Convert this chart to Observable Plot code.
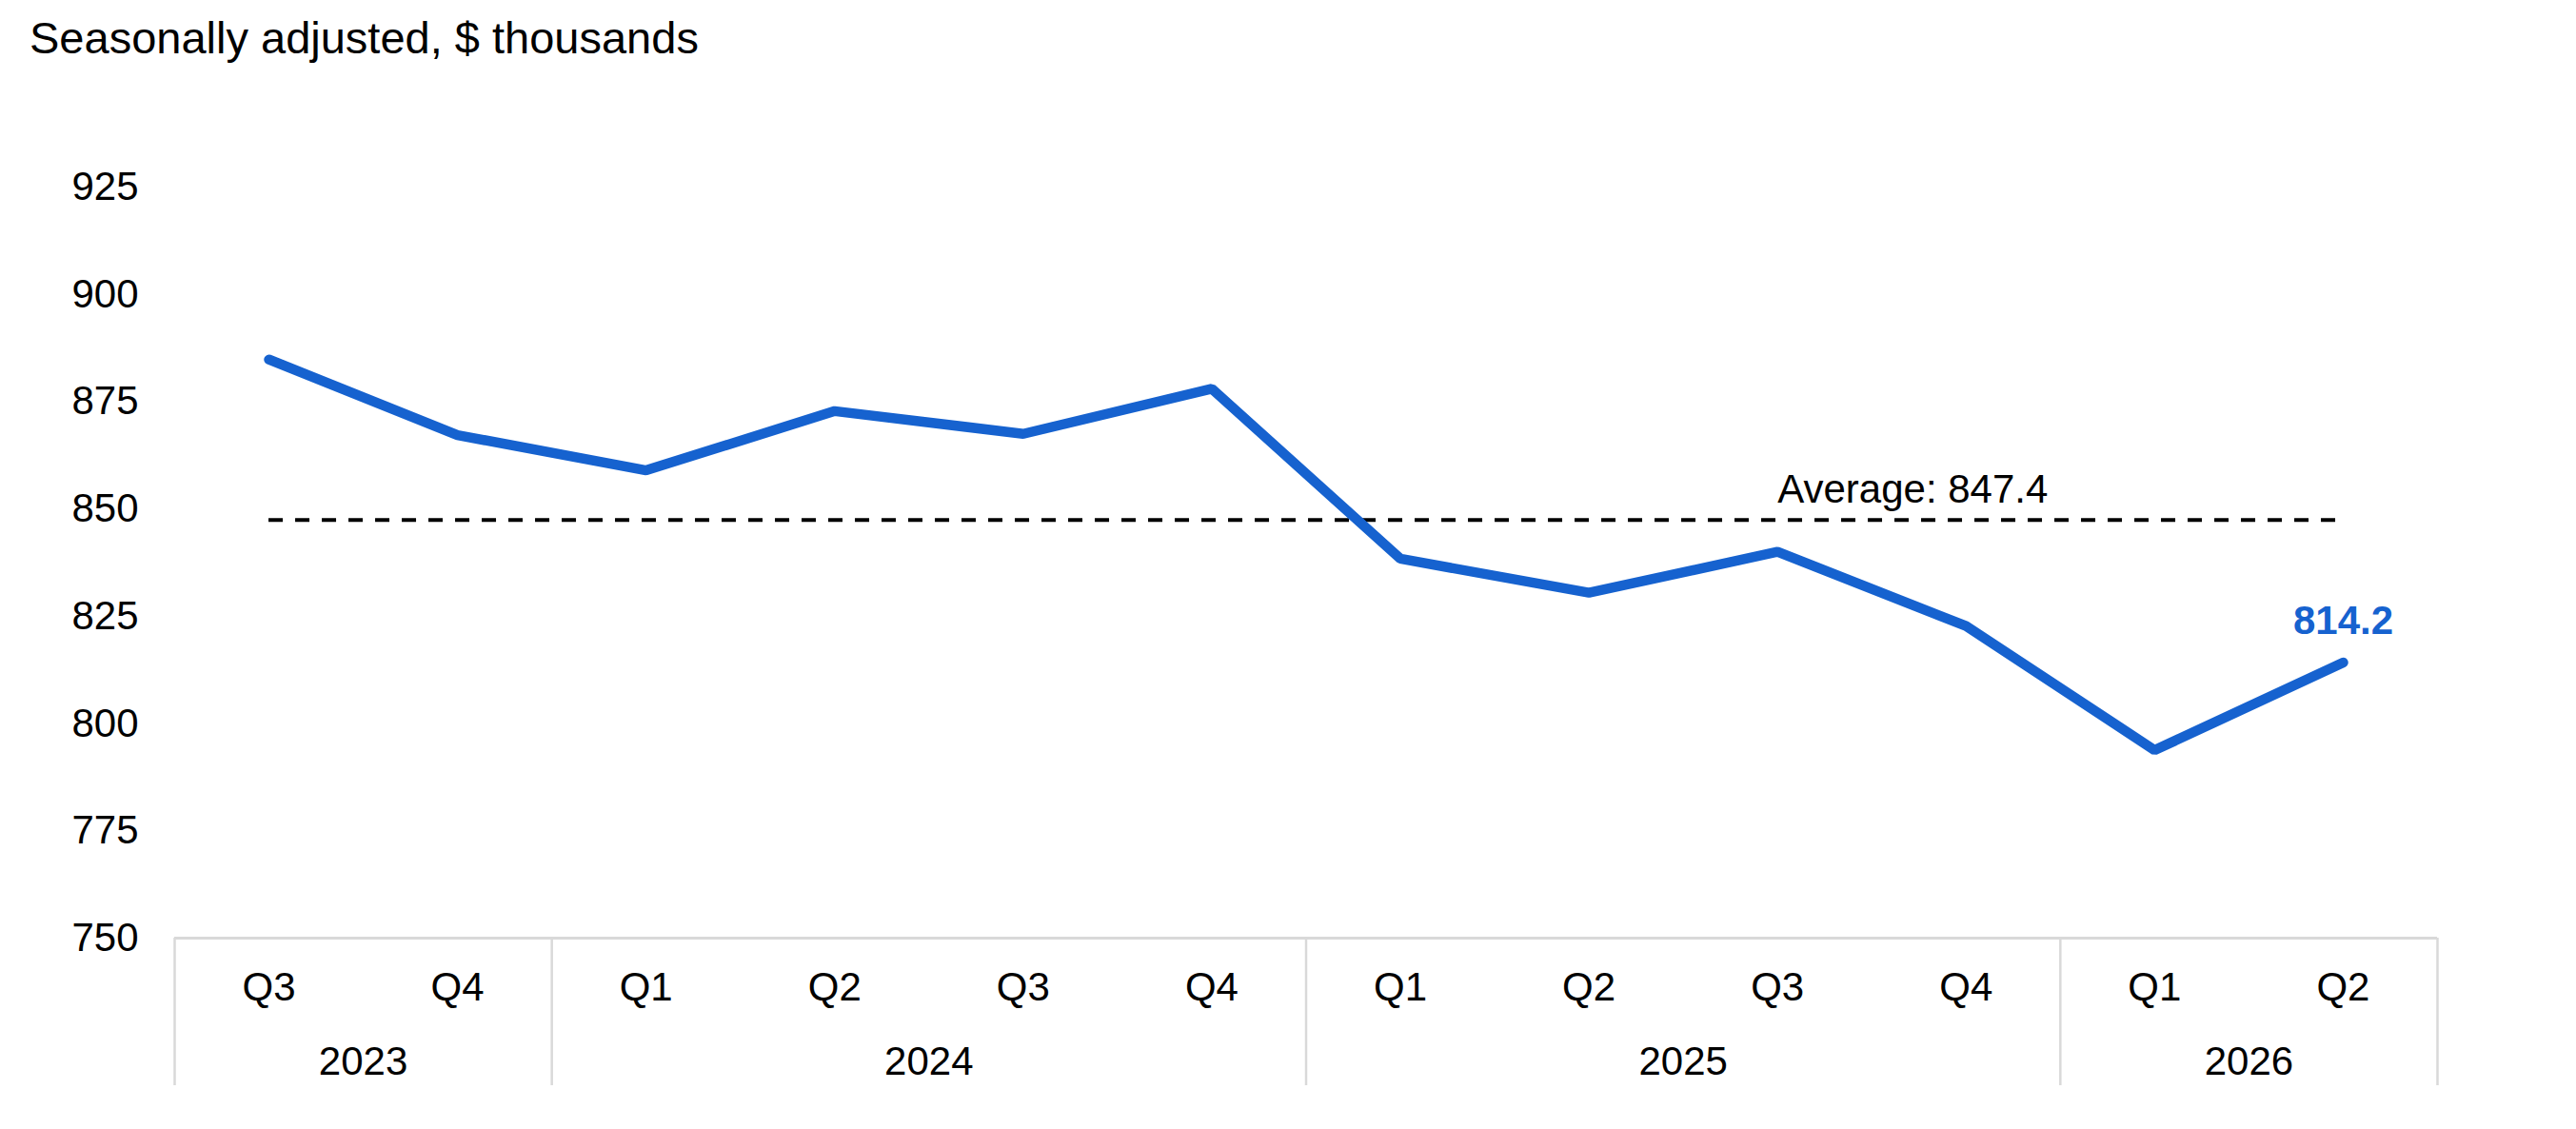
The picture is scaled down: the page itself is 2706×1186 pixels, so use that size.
<!DOCTYPE html>
<html>
<head>
<meta charset="utf-8">
<script src="https://cdn.jsdelivr.net/npm/d3@7"></script>
<script src="https://cdn.jsdelivr.net/npm/@observablehq/plot@0.6"></script>
<style>
  html, body { margin: 0; padding: 0; background: #fff; }
  body { font-family: "Liberation Sans", Arial, sans-serif; color: #000; }
  #title { font-size: 47px; line-height: 47px; padding: 16px 0 0 31px; height: 54px; box-sizing: content-box; }
  #chart svg { display: block; }
</style>
</head>
<body>
<div id="title">Seasonally adjusted, $ thousands</div>
<div id="chart"></div>
<script>
// ---- data ----
const quarters = ["Q3", "Q4", "Q1", "Q2", "Q3", "Q4", "Q1", "Q2", "Q3", "Q4", "Q1", "Q2"];
const years    = ["2023", "2023", "2024", "2024", "2024", "2024", "2025", "2025", "2025", "2025", "2026", "2026"];
const values   = [884.8, 867.2, 859.0, 872.8, 867.5, 878.0, 838.4, 830.5, 840.0, 822.7, 793.8, 814.2];
const average  = 847.4;
const averageLabel = "Average: 847.4";
const averageLabelAt = 8; // category index where the label starts
const yTicks   = [750, 775, 800, 825, 850, 875, 900, 925];
const yDomain  = [750, 925];

// ---- derived tables ----
const n = values.length;
const data = d3.range(n).map(i => ({ i, q: quarters[i], year: years[i], value: values[i] }));
const yearGroups = d3.groups(data, d => d.year).map(([year, rows]) => ({
  year,
  mid: d3.mean(rows, r => r.i),
  start: rows[0].i - 0.5,
  end: rows[rows.length - 1].i + 0.5
}));
const dividers = Array.from(new Set(yearGroups.flatMap(g => [g.start, g.end])));

const blue = "#1662CF";
const grid = "#d9d9d9";

const chart = Plot.plot({
  width: 2706,
  height: 1116,
  marginTop: 126,
  marginBottom: 201,
  marginLeft: 183,
  marginRight: 146,
  style: { fontFamily: "'Liberation Sans', Arial, sans-serif", fontSize: "42px", color: "#000", background: "#fff", overflow: "visible" },
  x: { domain: [-0.5, n - 0.5], axis: null },
  y: { domain: yDomain },
  marks: [
    Plot.axisY(yTicks, { tickSize: 0, tickPadding: 38, label: null, fontSize: 42, tickFormat: d => String(d) }),
    // average dashed line
    Plot.ruleY([average], { x1: 0, x2: n - 1, stroke: "#000", strokeWidth: 4, strokeDasharray: "15,13" }),
    // baseline
    Plot.ruleY([yDomain[0]], { x1: -0.5, x2: n - 0.5, stroke: grid, strokeWidth: 3 }),
    // year dividers of the category table
    Plot.ruleX(dividers, { x: d => d, y1: () => yDomain[0], y2: () => yDomain[0], insetBottom: -155, stroke: grid, strokeWidth: 2.5 }),
    // the series
    Plot.line(data, { x: "i", y: "value", stroke: blue, strokeWidth: 10.5, strokeLinecap: "round", strokeLinejoin: "miter" }),
    // quarter labels
    Plot.text(data, { x: "i", y: () => yDomain[0], text: "q", dy: 52, fontSize: 42, fill: "#000" }),
    // year labels
    Plot.text(yearGroups, { x: "mid", y: () => yDomain[0], text: "year", dy: 130, fontSize: 42, fill: "#000" }),
    // last value label
    Plot.text([data[n - 1]], { x: "i", y: "value", text: d => d.value.toFixed(1), dy: -44, fontSize: 42, fontWeight: "bold", fill: blue }),
    // average label
    Plot.text([average], { x: () => averageLabelAt, y: d => d, text: () => averageLabel, textAnchor: "start", dy: -32, fontSize: 42, fill: "#000" })
  ]
});
document.getElementById("chart").appendChild(chart);
</script>
</body>
</html>
